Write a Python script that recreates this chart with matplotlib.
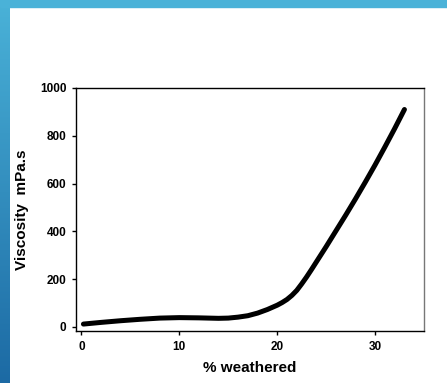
import numpy as np
import matplotlib.pyplot as plt
from matplotlib.colors import LinearSegmentedColormap

plt.rcParams['font.family'] = ['Liberation Sans', 'DejaVu Sans']

weathered = [0.2, 2, 4, 6, 8, 10, 12, 13, 14, 15, 16, 17, 18, 19, 20, 20.5, 21, 21.5, 22, 22.5,
             23, 23.5, 24, 25, 26, 27, 28, 29, 30, 31, 32, 33]
viscosity = [12, 19, 26, 32, 37, 39, 38, 37, 36, 37, 41, 47, 58, 73, 91, 102, 115, 132, 153, 180,
             209, 240, 272, 336, 402, 468, 536, 606, 678, 753, 830, 910]

xticks = [0, 10, 20, 30]
yticks = [0, 200, 400, 600, 800, 1000]

fig = plt.figure(figsize=(4.47, 3.83), dpi=100)

# blue slide border (left strip gradient + top strip)
bg = fig.add_axes([0, 0, 1, 1])
bg.set_axis_off()
grad = np.linspace(0, 1, 256).reshape(-1, 1)
cmap = LinearSegmentedColormap.from_list('edge', ['#1c6aa4', '#4ab2d8'])
bg.imshow(grad, aspect='auto', cmap=cmap, extent=[0, 10 / 447, 0, 1], origin='lower')
bg.axhspan(1 - 7 / 383, 1, color='#4ab2d8')
bg.set_xlim(0, 1)
bg.set_ylim(0, 1)

ax = fig.add_axes([76 / 447, 1 - 331 / 383, (424 - 76) / 447, (331 - 88) / 383])
ax.plot(weathered, viscosity, color='black', lw=3.6, solid_capstyle='round', solid_joinstyle='round')

ax.set_xlim(-0.56, 35.0)
ax.set_ylim(-17, 1000)
ax.set_xticks(xticks)
ax.set_yticks(yticks)
ax.tick_params(direction='out', length=3, width=1, pad=4, labelsize=8.5)
for lab in ax.get_xticklabels() + ax.get_yticklabels():
    lab.set_fontweight('bold')
for s in ax.spines.values():
    s.set_linewidth(1)
ax.spines['right'].set_color('#777777')

ax.set_xlabel('% weathered', fontsize=11, fontweight='bold', labelpad=6)
ax.set_ylabel('Viscosity  mPa.s', fontsize=11, fontweight='bold', labelpad=8)

fig.savefig('out.png', dpi=100)
